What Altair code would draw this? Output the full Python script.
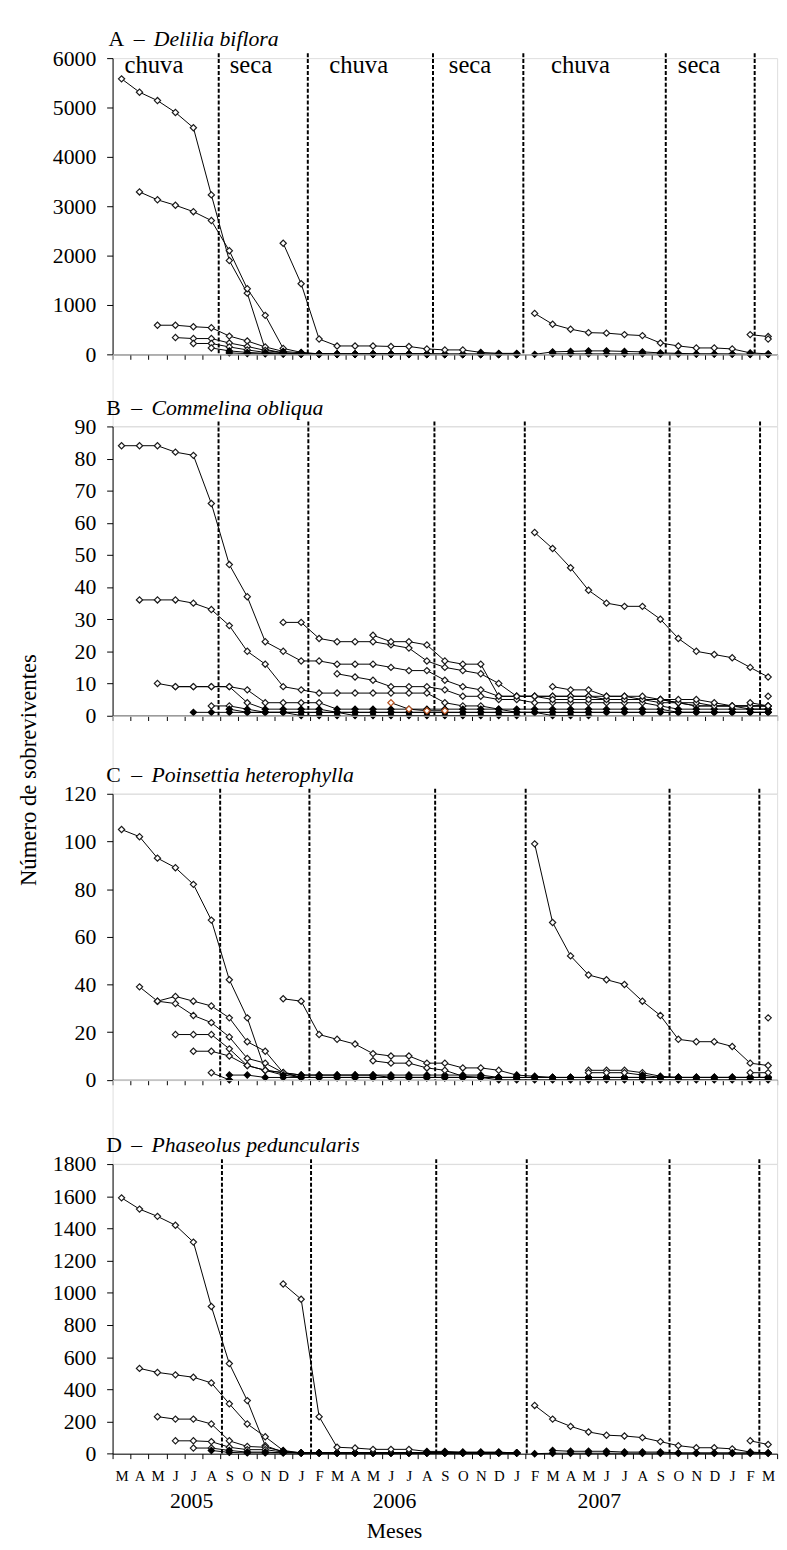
import json
import altair as alt
import pandas as pd

FONT = "Liberation Serif"

# ---------------- data ----------------
# month index 0 = March 2005 ... 36 = March 2008
MONTHS = ["M", "A", "M", "J", "J", "A", "S", "O", "N", "D",
          "J", "F", "M", "A", "M", "J", "J", "A", "S", "O", "N", "D",
          "J", "F", "M", "A", "M", "J", "J", "A", "S", "O", "N", "D",
          "J", "F", "M"]
YEARS = ["2005", "2006", "2007"]
YEAR_POS = [3.9, 15.2, 26.6]
SEASONS = ["chuva", "seca", "chuva", "seca", "chuva", "seca"]
SEASON_POS = [1.8, 7.2, 13.2, 19.4, 25.55, 32.15]

# season boundaries (dashed lines), in month index units
BOUND_A = [5.41, 10.37, 17.34, 22.37, 30.30, 35.25]
BOUND_B = [5.40, 10.40, 17.42, 22.45, 30.51, 35.55]
BOUND_C = [5.49, 10.46, 17.46, 22.50, 30.51, 35.51]
BOUND_D = [5.59, 10.55, 17.52, 22.56, 30.51, 35.51]

# cohorts: (first month index, survivors per month)
DELILIA = [
    (0, [5580, 5310, 5140, 4900, 4590, 3230, 1900, 1240, 100, 30, 10, 5, 5, 5, 5, 5, 5, 0, 0, 0, 0, 0, 0]),
    (1, [3290, 3130, 3020, 2890, 2710, 2100, 1330, 790, 120, 40, 10, 5, 5, 5, 5, 5, 5, 0, 0, 0, 0, 0]),
    (2, [590, 590, 560, 540, 370, 270, 150, 60, 30, 10, 10, 10, 10, 10, 10, 10, 0, 0, 0, 0, 0]),
    (3, [340, 320, 320, 230, 160, 80, 30, 10, 5, 5, 5, 5, 5, 5, 5, 0, 0, 0, 0, 0]),
    (4, [220, 220, 150, 90, 40, 20, 10, 5, 5, 5, 5, 5, 5, 0, 0, 0, 0, 0, 0]),
    (5, [130, 70, 40, 20, 10, 5, 0, 0, 0, 0, 0, 0, 0, 0, 0, 0, 0, 0]),
    (6, [30, 15, 10, 5, 0, 0, 0, 0, 0, 0, 0, 0, 0, 0, 0, 0, 0]),
    (9, [2250, 1430, 310, 170, 170, 170, 160, 160, 110, 90, 90, 40, 20, 20]),
    (23, [830, 610, 510, 440, 430, 400, 380, 230, 170, 130, 130, 110, 30, 10]),
    (23, [0, 50, 60, 70, 70, 60, 50, 30, 20, 10, 10, 5, 0, 0]),
    (24, [10, 10, 10, 10, 10, 10, 5, 5, 5, 5, 5, 0, 0]),
    (35, [400, 360]),
    (36, [310]),
]

COMMELINA = [
    (0, [84, 84, 84, 82, 81, 66, 47, 37, 23, 20, 17, 17, 16, 16, 16, 15, 14, 14, 11, 9, 8, 6, 6, 6, 6, 6, 6, 5, 5, 5, 4, 4, 3, 3, 3, 3, 3]),
    (1, [36, 36, 36, 35, 33, 28, 20, 16, 9, 8, 7, 7, 7, 7, 7, 7, 7, 4, 3, 3, 2, 2, 2, 2, 2, 2, 2, 2, 2, 2, 1, 1, 1, 1, 1, 1]),
    (2, [10, 9, 9, 9, 9, 8, 4, 4, 4, 4, 2, 2, 2, 2, 2, 2, 2, 2, 2, 2, 1, 1, 1, 1, 1, 1, 1, 1, 1, 1, 1, 1, 1, 1, 1]),
    (3, [9, 9, 9, 9, 4, 2, 2, 2, 2, 1, 1, 1, 1, 1, 1, 1, 1, 1, 1, 1, 1, 0, 0, 0]),
    (4, [1, 1, 1, 1, 1, 1, 1, 1, 1, 1, 1, 1, 1, 1, 1, 1, 1, 1, 1, 1, 1, 1, 1, 1, 1, 1, 1, 1, 1, 1, 1, 1, 1]),
    (5, [3, 3, 2, 1, 1, 1, 1, 1, 0, 0, 0, 0, 0, 0, 0, 0, 0, 0]),
    (6, [2, 1, 1, 1, 0, 0, 0]),
    (9, [29, 29, 24, 23, 23, 23, 22, 21, 17, 15, 14, 13, 10, 6, 6, 6, 6, 6, 6, 6, 5, 5, 4, 3, 3, 3, 3, 3]),
    (12, [13, 12, 11, 9, 9, 9, 8, 6, 6, 5, 5, 4, 4, 4, 4, 4, 4, 4, 3, 2, 2, 2, 2, 2, 2]),
    (14, [25, 23, 23, 22, 17, 16, 16, 6, 6, 6, 5, 5, 5, 5, 5, 5, 5, 4, 4, 3, 3, 2, 2]),
    (15, [4, 2, 1.5, 1.5]),
    (23, [57, 52, 46, 39, 35, 34, 34, 30, 24, 20, 19, 18, 15, 12]),
    (24, [9, 8, 8, 6, 6, 6, 5, 5, 5, 4, 3, 3, 3]),
    (35, [4, 3]),
    (36, [6]),
]
COMMELINA_BROWN = 10  # cohort drawn with brown markers

POINSETTIA = [
    (0, [105, 102, 93, 89, 82, 67, 42, 26, 4, 3, 1, 1, 1, 1, 1, 1, 1, 1, 1, 1, 1, 1, 1, 1, 1, 1, 1, 1, 1, 1, 1, 1, 1, 1, 1, 1, 1]),
    (1, [39, 33, 32, 27, 24, 18, 9, 7, 3, 2, 2, 2, 2, 2, 1, 1, 1, 1, 1, 1, 1, 1]),
    (2, [33, 35, 33, 31, 26, 16, 12, 3, 2, 2, 2, 2, 2, 2, 2, 2, 2, 2, 2, 1, 1, 1, 1, 1, 1, 1, 1, 1, 1, 1, 1, 1, 1, 1, 1]),
    (3, [19, 19, 19, 13, 6, 4, 3, 1, 1, 1, 1, 1, 1, 1, 1, 1, 1, 1, 1, 1]),
    (4, [12, 12, 10, 6, 4, 2, 1, 1, 1, 1, 1, 1, 1, 1, 1, 1, 1, 0, 0, 0, 0, 0, 0, 0, 0, 0, 0, 0, 0, 0, 0, 0, 0]),
    (5, [3, 0]),
    (6, [2, 2, 1, 1, 1, 1, 1, 1, 1, 1, 1, 1, 1, 1, 1, 1, 1]),
    (9, [34, 33, 19, 17, 15, 11, 10, 10, 7, 7, 5, 5, 4, 2, 1.5, 1, 1, 1, 1, 1, 1, 1, 1, 1, 1, 1, 1, 1]),
    (14, [8, 7, 7, 5, 4, 1.5, 1, 1, 1, 1, 1, 1, 1, 1, 1, 1, 1, 1, 1, 1, 1, 1, 1]),
    (23, [99, 66, 52, 44, 42, 40, 33, 27, 17, 16, 16, 14, 7, 6]),
    (26, [4, 4, 4, 3, 1.5, 1, 1, 1, 1, 1, 1]),
    (26, [3, 3, 3, 2, 1, 1, 1, 1, 1, 1, 1]),
    (35, [3, 3]),
    (36, [26]),
]

PHASEOLUS = [
    (0, [1590, 1520, 1475, 1420, 1315, 915, 560, 330, 50, 10, 5, 5, 5, 5, 5, 5, 5, 5, 5, 5, 5, 5, 5]),
    (1, [530, 505, 490, 475, 440, 310, 185, 105, 20, 5, 5, 5, 5, 5, 5, 5, 5, 5, 5, 5, 5, 5]),
    (2, [230, 215, 215, 185, 80, 45, 40, 15, 5, 5, 5, 5, 5, 5, 5, 5, 5, 5, 5, 5, 5]),
    (3, [80, 80, 75, 40, 25, 25, 10, 5, 5, 5, 5, 5, 5, 5, 5, 5, 5, 5, 5, 5]),
    (4, [35, 35, 20, 10, 10, 5, 5, 5, 5, 5, 5, 5, 5, 5, 5, 5, 5, 5, 5]),
    (5, [20, 8, 5, 5, 5, 5, 5, 5, 5, 5, 5, 5, 5, 5, 5, 5, 5, 5]),
    (9, [1055, 960, 230, 40, 35, 27, 27, 27, 14, 14, 10, 10, 10, 4]),
    (23, [300, 215, 170, 135, 115, 110, 100, 75, 50, 37, 37, 30, 10, 5]),
    (35, [80, 57]),
    (24, [20, 15, 15, 15, 10, 10, 10, 5, 5, 5, 5, 5, 5]),
    (23, [0, 3, 3, 3, 3, 3, 3, 3, 3, 3, 3, 3, 3, 3]),
]

# ---------------- layout / style ----------------
W = 673
H = {"A": 300, "B": 292.8, "C": 289.7, "D": 293.3}
GAPS = [72.7, 78.8, 84.7]   # vertical gaps between plot areas
X_TICKS = [i - 0.5 for i in range(38)]
LABEL_EXPR = json.dumps(MONTHS) + "[round(datum.value + 0.5)] || ''"


def cohort_frame(cohorts, dark_max, brown_idx=None):
    rows = []
    for k, (start, vals) in enumerate(cohorts):
        for j, v in enumerate(vals):
            dark = v <= dark_max
            if k == brown_idx:
                stroke, fill = "#B4501E", "white"
            elif dark:
                stroke, fill = "black", "black"
            else:
                stroke, fill = "#1a1a1a", "white"
            rows.append({"s": k, "m": start + j, "v": v, "stroke": stroke, "fill": fill})
    return pd.DataFrame(rows)


def xdef(show_labels):
    axis = alt.Axis(values=X_TICKS, labels=show_labels, labelExpr=LABEL_EXPR,
                    labelOffset=W / 37 / 2, tickSize=5, labelPadding=10,
                    labelFontSize=15, labelFont=FONT, labelOverlap=False,
                    labelFlush=False, labelBound=False, labelAngle=0, grid=False,
                    title=None, domainColor="black", tickColor="black",
                    labelColor="black", domainWidth=1, tickWidth=1)
    return alt.X("m:Q", scale=alt.Scale(domain=[-0.5, 36.5], nice=False, zero=False), axis=axis)


def ydef(ymax, step):
    axis = alt.Axis(values=list(range(0, ymax + 1, step)), format="d", tickSize=6,
                    labelPadding=11, labelFontSize=22, labelFont=FONT, grid=False,
                    labelFlush=False, title=None, domainColor="black",
                    tickColor="black", labelColor="black", domainWidth=1, tickWidth=1)
    return alt.Y("v:Q", scale=alt.Scale(domain=[0, ymax], nice=False, zero=True), axis=axis)


def txt(s, x, y, size=22, style="normal", align="left"):
    return alt.Chart(pd.DataFrame({"t": [s]})).mark_text(
        font=FONT, fontSize=size, fontStyle=style, align=align, baseline="middle",
        color="black"
    ).encode(x=alt.value(x), y=alt.value(y), text="t:N")


def panel(key, cohorts, ymax, step, bounds, letter, species, letter_x, italic_x,
          dark_max, brown_idx=None, show_labels=False, extra=()):
    h = H[key]
    df = cohort_frame(cohorts, dark_max, brown_idx)
    X = xdef(show_labels)
    Y = ydef(ymax, step)
    rules = alt.Chart(pd.DataFrame({"m": bounds})).mark_rule(
        color="black", strokeWidth=2, strokeDash=[4, 2]
    ).encode(x=X, y=alt.value(-5), y2=alt.value(h))
    lines = alt.Chart(df).mark_line(color="black", strokeWidth=1).encode(
        x=X, y=Y, detail="s:N")
    pts = alt.Chart(df).mark_point(shape="diamond", size=40, filled=True, opacity=1,
                                   strokeWidth=1.2).encode(
        x=X, y=Y, fill=alt.Fill("fill:N", scale=None),
        stroke=alt.Stroke("stroke:N", scale=None))
    t1 = txt(letter, letter_x, -19)
    t_dash = txt("\u2013", letter_x + 25.5, -19)
    t2 = txt(species, italic_x, -19, style="italic")
    layers = [rules, lines, pts, t1, t_dash, t2]
    for fn in extra:
        layers.append(fn(X, h))
    return alt.layer(*layers).properties(width=W, height=h)


def seasons_layer(X, h):
    return alt.Chart(pd.DataFrame({"m": SEASON_POS, "t": SEASONS})).mark_text(
        font=FONT, fontSize=25, align="center", baseline="middle", color="black"
    ).encode(x=X, y=alt.value(7), text="t:N")


def anchor_layer(X, h):
    # invisible point fixing the top-left corner of the page
    return alt.Chart(pd.DataFrame({"a": [0]})).mark_point(
        opacity=0, size=1, filled=True).encode(x=alt.value(-112.8), y=alt.value(-47.5))


def ytitle_layer(X, h):
    return alt.Chart(pd.DataFrame({"t": ["N\u00famero de sobreviventes"]})).mark_text(
        font=FONT, fontSize=23, angle=270, align="center", baseline="middle",
        color="black"
    ).encode(x=alt.value(-85), y=alt.value(-24), text="t:N")


def years_layer(X, h):
    return alt.Chart(pd.DataFrame({"m": YEAR_POS, "t": YEARS})).mark_text(
        font=FONT, fontSize=22, align="center", baseline="middle", color="black"
    ).encode(x=X, y=alt.value(h + 48), text="t:N")


def meses_layer(X, h):
    return alt.Chart(pd.DataFrame({"m": [15.2], "t": ["Meses"]})).mark_text(
        font=FONT, fontSize=22, align="center", baseline="middle", color="black"
    ).encode(x=X, y=alt.value(h + 78), text="t:N")


def spacer(gap):
    return alt.Chart(pd.DataFrame({"a": [0]})).mark_point(
        opacity=0, size=1, filled=True).encode(
        x=alt.value(0), y=alt.value(0)).properties(width=W, height=gap)


pA = panel("A", DELILIA, 6000, 1000, BOUND_A, "A", "Delilia biflora", -4, 41.7, 70,
           extra=(seasons_layer, anchor_layer))
pB = panel("B", COMMELINA, 90, 10, BOUND_B, "B", "Commelina obliqua", -6.5, 39.4, 2.5,
           brown_idx=COMMELINA_BROWN)
pC = panel("C", POINSETTIA, 120, 20, BOUND_C, "C", "Poinsettia heterophylla", -6.5, 39.4, 2.5,
           extra=(ytitle_layer,))
pD = panel("D", PHASEOLUS, 1800, 200, BOUND_D, "D", "Phaseolus peduncularis", -6.5, 39.4, 22,
           show_labels=True, extra=(years_layer, meses_layer))

chart = alt.vconcat(
    pA, spacer(GAPS[0]), pB, spacer(GAPS[1]), pC, spacer(GAPS[2]), pD,
    spacing=0, bounds="flush"
).properties(padding=0).configure_view(stroke="transparent").configure(font=FONT)

chart.save("out.html", embed_options={"renderer": "svg", "actions": False})
